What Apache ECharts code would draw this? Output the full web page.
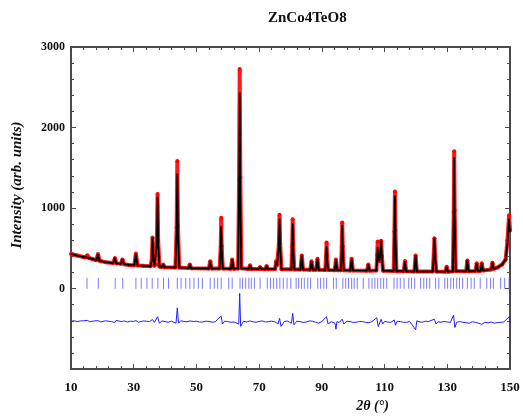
<!DOCTYPE html>
<html>
<head>
<meta charset="utf-8">
<script src="https://cdn.jsdelivr.net/npm/echarts@6/dist/echarts.min.js"></script>
<style>
  html, body { margin: 0; padding: 0; background: #fff; }
  #chart { width: 523px; height: 418px; }
</style>
</head>
<body>
<div id="chart"></div>
<script>
// 2theta grid shared by observed and calculated profiles
var twoTheta = [
  10.0, 12.0, 14.0, 14.7, 15.2, 15.7, 17.0, 18.1, 18.6, 19.1,
  21.0, 23.5, 24.0, 24.5, 25.9, 26.4, 26.9, 28.5, 30.2, 30.7, 31.2,
  33.0, 35.4, 35.8, 36.0, 36.2, 36.6, 37.1, 37.4, 37.6, 37.8, 38.2,
  39.0, 39.4, 39.8, 43.3, 43.7, 43.9, 44.1, 44.5,
  47.5, 47.9, 48.3, 54.0, 54.4, 54.8, 57.4, 57.75, 57.9, 58.05, 58.4,
  61.0, 61.4, 61.8, 63.3, 63.6, 63.8, 64.0, 64.3,
  66.7, 67.1, 67.5, 69.9, 70.3, 70.7, 72.0, 72.4, 72.8,
  75.1, 75.4, 75.7, 76.3, 76.5, 76.7, 77.1,
  80.3, 80.55, 80.7, 80.85, 81.2, 83.2, 83.6, 84.0,
  86.3, 86.7, 87.1, 88.2, 88.6, 89.0,
  91.1, 91.35, 91.5, 91.65, 92.0, 94.1, 94.5, 94.9,
  96.1, 96.35, 96.5, 96.65, 97.0, 99.1, 99.5, 99.9,
  104.4, 104.8, 105.2, 107.4, 107.65, 107.8, 108.0, 108.3, 108.6, 108.9, 109.15, 109.5,
  112.9, 113.15, 113.3, 113.45, 113.8, 116.1, 116.5, 116.9,
  119.5, 119.9, 120.3, 125.4, 125.7, 125.9, 126.1, 126.5,
  129.4, 129.8, 130.2, 131.8, 132.05, 132.2, 132.35, 132.7,
  136.0, 136.4, 136.8, 139.0, 139.4, 139.8, 140.6, 141.0, 141.4,
  144.0, 144.4, 144.8, 146.0, 147.5, 148.6, 149.2, 149.7, 150.0
];
var yCalc = [
  430, 410, 392, 388, 411, 380, 365, 352, 427, 345,
  328, 317, 378, 313, 307, 362, 303, 294, 291, 430, 288,
  282, 276, 360, 630, 400, 285, 300, 560, 1140, 560, 275,
  268, 300, 266, 262, 700, 1430, 700, 262,
  254, 300, 252, 249, 335, 248, 248, 480, 775, 480, 248,
  246, 362, 246, 250, 1200, 2435, 1200, 252,
  244, 290, 243, 242, 268, 242, 241, 280, 241,
  242, 338, 290, 520, 870, 520, 241,
  239, 500, 810, 500, 238, 237, 410, 237,
  235, 338, 235, 234, 370, 233,
  232, 380, 525, 380, 231, 229, 362, 229,
  229, 500, 790, 500, 228, 226, 370, 225,
  222, 300, 222, 225, 380, 512, 380, 340, 420, 594, 400, 222,
  217, 680, 1155, 680, 216, 215, 341, 214,
  212, 411, 212, 212, 420, 626, 420, 211,
  210, 272, 210, 215, 900, 1630, 900, 218,
  214, 350, 215, 217, 313, 218, 221, 313, 224,
  238, 321, 245, 262, 300, 360, 560, 870, 700
];
var yObs = [
  430, 410, 392, 388, 415, 380, 365, 352, 430, 345,
  328, 317, 380, 313, 307, 362, 303, 294, 291, 435, 288,
  282, 276, 365, 635, 405, 285, 300, 580, 1175, 590, 275,
  268, 300, 266, 262, 760, 1585, 780, 262,
  254, 300, 252, 249, 340, 248, 248, 520, 880, 530, 248,
  246, 362, 246, 250, 1350, 2728, 1380, 252,
  244, 290, 243, 242, 268, 242, 241, 280, 241,
  242, 338, 290, 550, 918, 560, 241,
  239, 530, 862, 540, 238, 237, 410, 237,
  235, 338, 235, 234, 370, 233,
  232, 400, 573, 410, 231, 229, 362, 229,
  229, 520, 821, 525, 228, 226, 370, 225,
  222, 300, 222, 225, 420, 585, 400, 340, 420, 594, 400, 222,
  217, 710, 1204, 720, 216, 215, 341, 214,
  212, 411, 212, 212, 430, 626, 420, 211,
  210, 272, 210, 215, 950, 1704, 970, 218,
  214, 350, 215, 217, 313, 218, 221, 313, 224,
  238, 321, 245, 262, 300, 360, 600, 911, 720
];
// difference curve (Yobs - Ycalc, shifted)
var diffTheta = [
  10, 11, 12, 13, 14, 15.2, 16, 17, 18.6, 19.5, 20, 21, 22, 23, 24, 24.4, 25, 26, 27, 28, 29, 30, 30.7, 31.5, 32, 33, 34, 35,
  36.0, 36.6, 37.6, 38.2, 39, 40, 41, 42, 43.5, 43.9, 44.3, 45, 46, 47, 48, 49, 50, 51, 52, 53, 54, 55, 56,
  57.9, 58.3, 59, 60, 61, 62, 63.5, 63.8, 64.1, 65, 66, 67, 68, 69, 70, 71, 72, 73, 74, 75, 76.0, 76.5, 77.0,
  78, 79, 80.3, 80.7, 81.1, 82, 83, 84, 85, 86, 87, 88, 89, 90, 91.5, 92.0, 93, 94.2, 94.5, 94.8, 95.5, 96.5,
  97, 98, 99, 100, 101, 102, 103, 104, 105, 106, 107.5, 108.0, 108.9, 109.4, 110, 111, 112, 113.1, 113.5, 114, 115,
  116, 117, 118, 119.9, 120.3, 121, 122, 123, 124, 125.9, 126.4, 127, 128, 129, 130, 131, 132.0, 132.4, 133,
  134, 135, 136, 137, 138, 139, 140, 141, 142, 143, 144, 145, 146, 147, 148, 149.7, 150
];
var yDiff = [
  -405, -400, -410, -402, -400, -395, -412, -404, -398, -415, -410, -400, -405, -412, -420, -395, -408, -410, -402, -415, -405, -408, -398, -418, -412, -402, -405, -410,
  -385, -420, -350, -430, -402, -410, -418, -405, -430, -240, -430, -400, -408, -412, -402, -410, -405, -415, -415, -405, -408, -418, -412,
  -341, -440, -405, -410, -418, -415, -440, -60, -470, -405, -415, -402, -412, -418, -408, -402, -415, -410, -405, -412, -440, -370, -470,
  -410, -402, -430, -309, -450, -405, -410, -420, -415, -402, -405, -418, -430, -408, -350, -440, -412, -430, -504, -410, -422, -380,
  -440, -405, -410, -420, -418, -408, -410, -420, -425, -410, -362, -472, -380, -440, -408, -415, -420, -390, -455, -405, -410,
  -418, -420, -408, -512, -400, -412, -418, -405, -410, -380, -440, -412, -418, -408, -415, -420, -329, -484, -420,
  -410, -418, -425, -430, -412, -420, -430, -445, -418, -425, -415, -430, -422, -420, -415, -350, -420
];
// Bragg reflection positions
var braggPos = [
  15.1, 18.7, 24.1, 26.5, 30.7, 32.4, 34.2, 35.9, 37.7, 39.5, 41.1, 43.9, 45.1,
  46.6, 47.9, 49.2, 50.6, 51.9, 54.4, 55.7, 56.8, 57.9, 60.3, 61.4,
  63.9, 64.7, 65.7, 66.7, 67.5, 68.5, 70.3, 72.6, 73.6, 74.6, 75.6, 76.6, 77.7,
  78.9, 80.1, 81.8, 82.6, 83.5, 84.4, 85.5, 86.4, 88.7, 89.6, 90.6, 91.5,
  93.7, 94.6, 96.7, 97.6, 98.5, 99.5, 100.3, 101.3, 103.2, 105.0, 106.0, 106.9,
  107.8, 108.8, 109.7, 110.7, 113.0, 114.0, 115.0, 116.2, 117.7, 118.6, 119.6,
  121.5, 122.5, 123.4, 124.4, 126.3, 127.3, 129.2, 130.1, 131.1, 132.0, 133.0,
  133.9, 134.9, 136.4, 137.6, 138.6, 140.5, 142.6, 143.8, 144.7, 147.0, 148.3, 149.7
];
var braggLevel = 66;

var obsData = twoTheta.map(function (t, i) { return [t, yObs[i]]; });
var calcData = twoTheta.map(function (t, i) { return [t, yCalc[i]]; });
var diffData = diffTheta.map(function (t, i) { return [t, yDiff[i]]; });
var braggData = braggPos.map(function (t) { return [t, braggLevel]; });

var serif = 'Liberation Serif, Times New Roman, serif';
var frame = { show: true, onZero: false, lineStyle: { color: '#4a4a4a', width: 2 } };

var chart = echarts.init(document.getElementById('chart'));
var option = {
  animation: false,
  backgroundColor: '#fff',
  title: {
    text: 'ZnCo4TeO8',
    left: 263,
    top: 6,
    textStyle: { fontFamily: serif, fontWeight: 'bold', fontSize: 15, color: '#111' }
  },
  grid: { left: 71, right: 13, top: 47, bottom: 42 },
  xAxis: [
    {
      type: 'value', min: 10, max: 150, interval: 20,
      axisLine: frame,
      axisTick: { show: true, inside: true, length: 5, lineStyle: { color: '#4a4a4a' } },
      minorTick: { show: true, splitNumber: 5, length: 3, lineStyle: { color: '#4a4a4a' } },
      splitLine: { show: false },
      axisLabel: { margin: 12, fontFamily: serif, fontWeight: 'bold', fontSize: 13, color: '#111' },
      name: '2θ (°)',
      nameLocation: 'middle',
      nameGap: 26,
      nameTextStyle: { fontFamily: serif, fontStyle: 'italic', fontWeight: 'bold', fontSize: 14, color: '#111', padding: [0, 0, 0, 164] }
    },
    {
      type: 'value', min: 10, max: 150, interval: 20, position: 'top',
      axisLine: frame,
      axisTick: { show: true, inside: true, length: 5, lineStyle: { color: '#4a4a4a' } },
      minorTick: { show: true, splitNumber: 5, length: 3, lineStyle: { color: '#4a4a4a' } },
      splitLine: { show: false },
      axisLabel: { show: false }
    }
  ],
  yAxis: [
    {
      type: 'value', min: -1000, max: 3000, interval: 1000,
      axisLine: frame,
      axisTick: { show: true, inside: true, length: 5, lineStyle: { color: '#4a4a4a' } },
      minorTick: { show: true, splitNumber: 5, length: 3, lineStyle: { color: '#4a4a4a' } },
      splitLine: { show: false },
      axisLabel: {
        margin: 6, fontFamily: serif, fontWeight: 'bold', fontSize: 12, color: '#111',
        formatter: function (v) { return v < 0 ? '' : v; }
      },
      name: 'Intensity (arb. units)',
      nameLocation: 'middle',
      nameGap: 46,
      nameTextStyle: { fontFamily: serif, fontStyle: 'italic', fontWeight: 'bold', fontSize: 15, color: '#111', padding: [0, 0, 0, 46] }
    },
    {
      type: 'value', min: -1000, max: 3000, interval: 1000, position: 'right',
      axisLine: frame,
      axisTick: { show: true, inside: true, length: 5, lineStyle: { color: '#4a4a4a' } },
      minorTick: { show: true, splitNumber: 5, length: 3, lineStyle: { color: '#4a4a4a' } },
      splitLine: { show: false },
      axisLabel: { show: false }
    }
  ],
  series: [
    {
      name: 'Yobs', type: 'line', data: obsData,
      symbol: 'circle', symbolSize: 4, showAllSymbol: true,
      itemStyle: { color: '#ff0000' },
      lineStyle: { color: '#ff1a1a', width: 4 },
      z: 2
    },
    {
      name: 'Ycalc', type: 'line', data: calcData,
      symbol: 'none',
      lineStyle: { color: '#000', width: 1.8 },
      z: 3
    },
    {
      name: 'Yobs-Ycalc', type: 'line', data: diffData,
      symbol: 'none',
      lineStyle: { color: '#2020ff', width: 1 },
      z: 3
    },
    {
      name: 'Bragg', type: 'scatter', data: braggData,
      symbol: 'rect', symbolSize: [1, 11],
      itemStyle: { color: '#5a5aff' },
      z: 3
    }
  ]
};
chart.setOption(option);
</script>
</body>
</html>
